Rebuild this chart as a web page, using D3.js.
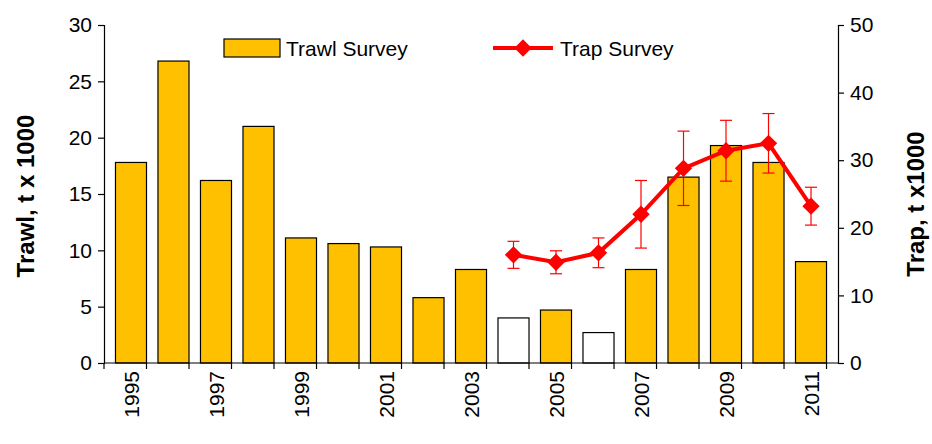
<!DOCTYPE html>
<html>
<head>
<meta charset="UTF-8">
<script src="https://d3js.org/d3.v7.min.js"></script>
<style>
  body { margin: 0; background: #fff; }
  text { font-family: Arial, "Liberation Sans", sans-serif; }
</style>
</head>
<body>
<svg id="chart" width="932" height="444"></svg>
<script>
  // data
  const years = d3.range(1995, 2012);
  const trawl = [17.8, 26.8, 16.2, 21.0, 11.1, 10.6, 10.3, 5.8, 8.3, 4.0, 4.7, 2.7, 8.3, 16.5, 19.3, 17.8, 9.0];
  const hollowYears = [2004, 2006];
  const trapYears = [2004, 2005, 2006, 2007, 2008, 2009, 2010, 2011];
  const trap = [16.0, 14.9, 16.3, 22.0, 28.8, 31.4, 32.5, 23.2];
  const trapErr = [2.0, 1.7, 2.2, 5.0, 5.5, 4.5, 4.4, 2.8];
  const leftTicks = [0, 5, 10, 15, 20, 25, 30];
  const rightTicks = [0, 10, 20, 30, 40, 50];

  const svg = d3.select("#chart");
  const mLeft = 104, mRight = 838, mTop = 25, mBottom = 363;

  const x = d3.scaleBand().domain(years).range([mLeft, mRight]).padding(0.27);
  const yL = d3.scaleLinear().domain([0, 30]).range([mBottom, mTop]);
  const yR = d3.scaleLinear().domain([0, 50]).range([mBottom, mTop]);

  // bars
  svg.append("g").selectAll("rect").data(years).join("rect")
    .attr("x", d => x(d))
    .attr("width", x.bandwidth())
    .attr("y", (d, i) => yL(trawl[i]))
    .attr("height", (d, i) => mBottom - yL(trawl[i]))
    .attr("fill", d => hollowYears.includes(d) ? "#fff" : "#ffc000")
    .attr("stroke", "#000").attr("stroke-width", 1.2);

  // axes
  const gL = svg.append("g").attr("transform", `translate(${mLeft},0)`)
    .call(d3.axisLeft(yL).tickValues(leftTicks).tickSize(6));
  const gR = svg.append("g").attr("transform", `translate(${mRight},0)`)
    .call(d3.axisRight(yR).tickValues(rightTicks).tickSize(6));
  [gL, gR].forEach(g => {
    g.selectAll("text").attr("font-size", 21).attr("fill", "#000");
    g.selectAll("path, line").attr("stroke", "#000").attr("stroke-width", 1.2);
  });
  gL.selectAll("text").attr("x", -12);
  gR.selectAll("text").attr("x", 12);

  // x axis: boundary ticks between bars
  const step = x.step();
  const gx = svg.append("g");
  gx.append("line").attr("x1", mLeft).attr("x2", mRight).attr("y1", mBottom).attr("y2", mBottom)
    .attr("stroke", "#000").attr("stroke-width", 1.2);
  gx.selectAll("line.tk").data(d3.range(years.length + 1)).join("line").attr("class", "tk")
    .attr("x1", i => mLeft + i * step).attr("x2", i => mLeft + i * step)
    .attr("y1", mBottom).attr("y2", mBottom + 6).attr("stroke", "#000").attr("stroke-width", 1.2);
  gx.selectAll("text").data(years.filter(d => d % 2 === 1)).join("text")
    .attr("transform", d => `translate(${x(d) + x.bandwidth() / 2 + 8},${mBottom + 8}) rotate(-90)`)
    .attr("text-anchor", "end").attr("font-size", 21).text(d => d);

  // trap line with error bars
  const cx = d => x(d) + x.bandwidth() / 2;
  const err = svg.append("g");
  trapYears.forEach((yr, i) => {
    const a = yR(trap[i] - trapErr[i]), b = yR(trap[i] + trapErr[i]);
    err.append("line").attr("x1", cx(yr)).attr("x2", cx(yr)).attr("y1", a).attr("y2", b)
      .attr("stroke", "#ff0000").attr("stroke-width", 1.2);
    [a, b].forEach(v => err.append("line").attr("x1", cx(yr) - 6).attr("x2", cx(yr) + 6)
      .attr("y1", v).attr("y2", v).attr("stroke", "#ff0000").attr("stroke-width", 1.2));
  });
  svg.append("path")
    .attr("d", d3.line().x(d => cx(d)).y((d, i) => yR(trap[i]))(trapYears))
    .attr("fill", "none").attr("stroke", "#ff0000").attr("stroke-width", 4);
  const diamond = d3.symbol().type(d3.symbolSquare).size(150);
  svg.append("g").selectAll("path").data(trapYears).join("path")
    .attr("d", diamond)
    .attr("transform", (d, i) => `translate(${cx(d)},${yR(trap[i])}) rotate(45)`)
    .attr("fill", "#ff0000");

  // axis titles
  svg.append("text").attr("transform", `translate(34,${(mTop + mBottom) / 2 + 2}) rotate(-90)`)
    .attr("text-anchor", "middle").attr("font-size", 24).attr("font-weight", "bold")
    .text("Trawl, t x 1000");
  svg.append("text").attr("transform", `translate(924,${(mTop + mBottom) / 2 + 10}) rotate(-90)`)
    .attr("text-anchor", "middle").attr("font-size", 24).attr("font-weight", "bold")
    .text("Trap, t x1000");

  // legend
  const lg = svg.append("g");
  lg.append("rect").attr("x", 224).attr("y", 39).attr("width", 56).attr("height", 18)
    .attr("fill", "#ffc000").attr("stroke", "#000").attr("stroke-width", 1.2);
  lg.append("text").attr("x", 286).attr("y", 56).attr("font-size", 21).text("Trawl Survey");
  lg.append("line").attr("x1", 493).attr("x2", 553).attr("y1", 48).attr("y2", 48)
    .attr("stroke", "#ff0000").attr("stroke-width", 4);
  lg.append("path").attr("d", diamond).attr("transform", "translate(523,48) rotate(45)").attr("fill", "#ff0000");
  lg.append("text").attr("x", 560).attr("y", 56).attr("font-size", 21).text("Trap Survey");
</script>
</body>
</html>
